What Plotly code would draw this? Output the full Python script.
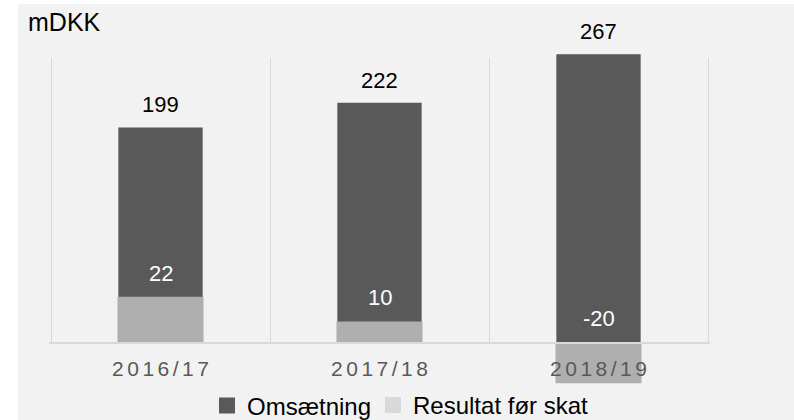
import plotly.graph_objects as go

# ---- data ----
categories = ["2016/17", "2017/18", "2018/19"]
omsaetning = [199, 222, 267]
resultat = [22, 10, -20]
series_names = ["Omsætning", "Resultat før skat"]
unit_label = "mDKK"

W, H = 794, 420
def fx(p):
    return p / W
def fy(p):
    return 1 - p / H

DARK = "#595959"
LIGHT = "#afafaf"
LIGHT_LEG = "#d9d9d9"
BG = "#f2f2f2"
GRID = "#d9d9d9"
FONT = "Liberation Sans, Arial, sans-serif"

# pixel geometry
plot_l, plot_r = 51, 708
zero_px = 342
bars_top, bars_bot = 30, 400
k1 = 1.078   # px per unit, primary
k2 = 2.06    # px per unit, secondary
cat_px = (plot_r - plot_l) / len(categories)
pad = 2  # extra px so edge grid lines are drawn
e = pad / cat_px

tick_text = ["\u2006".join(list(c)) for c in categories]

fig = go.Figure()

# dark bars (primary)
fig.add_trace(go.Bar(
    x=categories, y=omsaetning, xaxis="x", yaxis="y",
    marker=dict(color=DARK, line=dict(width=0)), width=0.385,
    showlegend=False, hoverinfo="skip",
))
# light bars (secondary)
fig.add_trace(go.Bar(
    x=categories, y=resultat, xaxis="x", yaxis="y2",
    marker=dict(color=LIGHT, line=dict(width=0)), width=0.393,
    showlegend=False, hoverinfo="skip",
))
# axis / grid subplot dummy
fig.add_trace(go.Scatter(
    x=categories, y=[0] * len(categories), xaxis="x2", yaxis="y3",
    mode="markers", marker=dict(opacity=0), showlegend=False, hoverinfo="skip",
))
# legend-only entries
fig.add_trace(go.Bar(
    x=categories, y=[None] * len(categories), xaxis="x2", yaxis="y3",
    name=series_names[0], marker=dict(color=DARK, line=dict(color=DARK, width=4)),
    legend="legend", hoverinfo="skip",
))
fig.add_trace(go.Bar(
    x=categories, y=[None] * len(categories), xaxis="x2", yaxis="y3",
    name=series_names[1], marker=dict(color=LIGHT_LEG, line=dict(color=LIGHT_LEG, width=4)),
    legend="legend2", hoverinfo="skip",
))

annotations = []
for c, v in zip(categories, omsaetning):
    annotations.append(dict(
        x=c, y=v, xref="x", yref="y", text=str(v), showarrow=False,
        yanchor="bottom", yshift=8, font=dict(family=FONT, size=22, color="#000000"),
    ))
for c, v in zip(categories, resultat):
    annotations.append(dict(
        x=c, y=max(v, 0), xref="x", yref="y2", text=str(v), showarrow=False,
        yanchor="bottom", yshift=9, font=dict(family=FONT, size=22, color="#ffffff"),
    ))
annotations.append(dict(
    x=fx(26), y=fy(22), xref="paper", yref="paper", text=unit_label,
    showarrow=False, xanchor="left", yanchor="middle",
    font=dict(family=FONT, size=25, color="#000000"),
))

fig.update_layout(
    width=W, height=H,
    margin=dict(l=0, r=0, t=0, b=0, autoexpand=False),
    paper_bgcolor="#ffffff",
    plot_bgcolor="rgba(0,0,0,0)",
    barmode="overlay",
    font=dict(family=FONT, color="#000000"),
    xaxis=dict(
        domain=[fx(plot_l), fx(plot_r)], type="category", range=[-0.5, 2.5],
        visible=False, anchor="y", fixedrange=True,
    ),
    yaxis=dict(
        domain=[fy(bars_bot), fy(bars_top)],
        range=[-(bars_bot - zero_px) / k1, (zero_px - bars_top) / k1],
        visible=False, anchor="x",
    ),
    yaxis2=dict(
        overlaying="y", anchor="x",
        range=[-(bars_bot - zero_px) / k2, (zero_px - bars_top) / k2],
        visible=False,
    ),
    xaxis2=dict(
        domain=[fx(plot_l - pad), fx(plot_r + pad)], type="category",
        range=[-0.5 - e, 2.5 + e],
        anchor="y3", tickson="boundaries", showgrid=True, gridcolor=GRID, gridwidth=1,
        showline=True, linecolor=GRID, linewidth=2, ticks="",
        tickmode="array", tickvals=categories, ticktext=tick_text,
        tickfont=dict(family=FONT, size=21, color=DARK),
        ticklabelstandoff=7, zeroline=False,
    ),
    yaxis3=dict(
        domain=[fy(zero_px), fy(58)], range=[0, 263], visible=False, anchor="x2",
    ),
    legend=dict(
        orientation="h", x=fx(207), y=fy(406), xanchor="left", yanchor="middle",
        font=dict(family=FONT, size=24, color="#000000"), bgcolor="rgba(0,0,0,0)",
    ),
    legend2=dict(
        orientation="h", x=fx(373), y=fy(405.5), xanchor="left", yanchor="middle",
        font=dict(family=FONT, size=24, color="#000000"), bgcolor="rgba(0,0,0,0)",
    ),
    shapes=[dict(
        type="rect", xref="paper", yref="paper", x0=fx(18), x1=1, y0=0, y1=fy(4),
        fillcolor=BG, line=dict(width=0), layer="below",
    )],
    annotations=annotations,
)

fig.write_html("out.html")
